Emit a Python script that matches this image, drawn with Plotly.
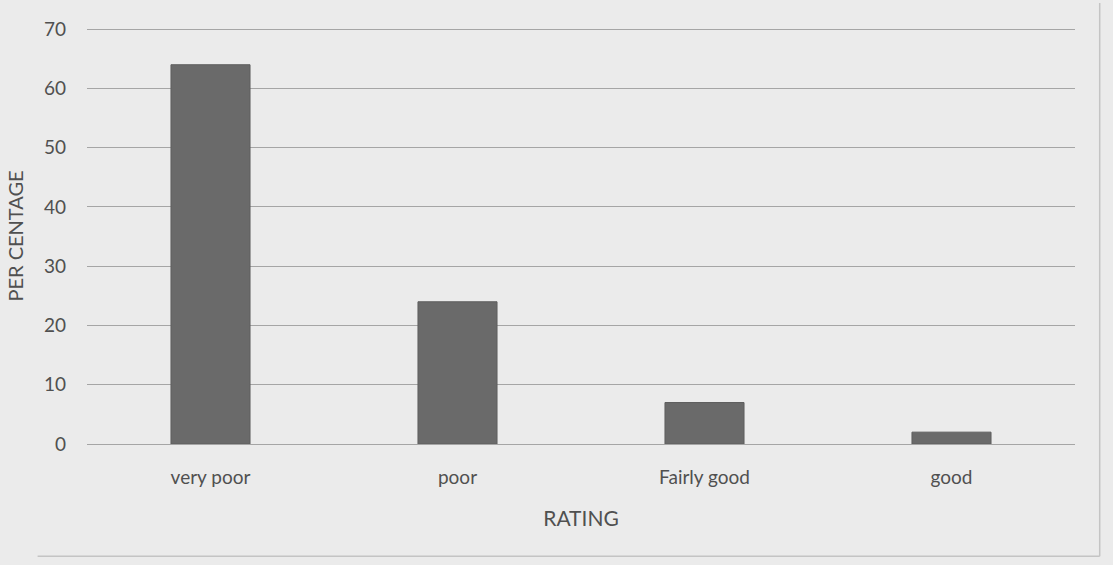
import plotly.graph_objects as go

categories = ["very poor", "poor", "Fairly good", "good"]
values = [64, 24, 7, 2]
y_ticks = [0, 10, 20, 30, 40, 50, 60, 70]

fig = go.Figure()
fig.add_trace(go.Bar(
    x=categories, y=values,
    marker=dict(color="#6a6a6a", line=dict(color="#5e5e5e", width=1)),
    width=0.32,
))

font_family = "Lato, 'Open Sans', sans-serif"
fig.update_layout(
    width=1113, height=565,
    margin=dict(l=87, r=38, t=28, b=121),
    paper_bgcolor="#ebebeb",
    plot_bgcolor="#ebebeb",
    font=dict(family=font_family, color="#505050", size=19),
    showlegend=False,
    bargap=0.68,
)
fig.update_xaxes(
    showgrid=False, showline=False, ticks="",
    ticklabelstandoff=20,
    tickfont=dict(size=19),
    title=dict(text="RATING", standoff=24, font=dict(size=21)),
)
fig.update_yaxes(
    range=[0, 70.2], tickvals=y_ticks,
    showgrid=True, gridcolor="#a5a5a5", gridwidth=1,
    zeroline=True, zerolinecolor="#a5a5a5", zerolinewidth=1,
    ticks="", ticklabelstandoff=20,
    tickfont=dict(size=19),
    title=dict(text="PER CENTAGE", standoff=14, font=dict(size=20)),
)
# faint frame of the original chart (bottom and right edges)
fig.add_shape(type="line", xref="paper", yref="paper",
              x0=-0.05, x1=1.025, y0=-0.27, y1=-0.27,
              line=dict(color="#c4c4c4", width=1.5))
fig.add_shape(type="line", xref="paper", yref="paper",
              x0=1.025, x1=1.025, y0=-0.27, y1=1.06,
              line=dict(color="#c4c4c4", width=1.5))
fig.write_html("out.html")
